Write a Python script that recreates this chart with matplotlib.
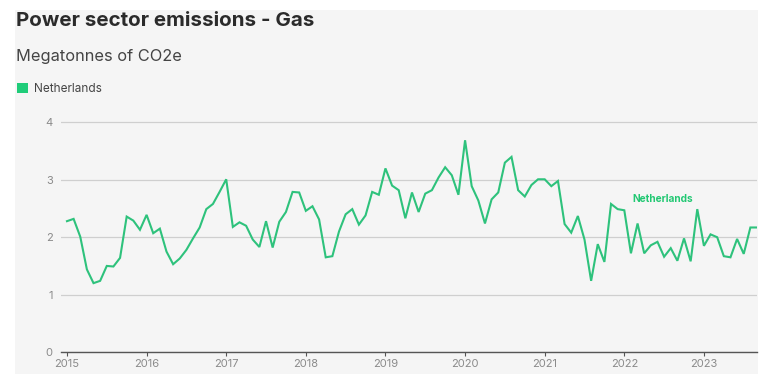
import numpy as np
import matplotlib.pyplot as plt
from matplotlib.patches import Rectangle

# Monthly gas-fired power emissions, Netherlands, Jan 2015 - Sep 2023 (MtCO2e)
netherlands = [
    2.28, 2.32, 2.01, 1.44, 1.20, 1.24, 1.50, 1.49, 1.64, 2.36, 2.29, 2.13,  # 2015
    2.39, 2.07, 2.15, 1.75, 1.53, 1.63, 1.78, 1.98, 2.17, 2.49, 2.58, 2.79,  # 2016
    3.01, 2.18, 2.26, 2.20, 1.96, 1.83, 2.28, 1.82, 2.27, 2.44, 2.79, 2.78,  # 2017
    2.46, 2.54, 2.31, 1.65, 1.67, 2.10, 2.40, 2.49, 2.22, 2.38, 2.79, 2.74,  # 2018
    3.20, 2.90, 2.82, 2.33, 2.78, 2.44, 2.76, 2.82, 3.04, 3.22, 3.08, 2.74,  # 2019
    3.69, 2.89, 2.64, 2.24, 2.66, 2.78, 3.30, 3.40, 2.82, 2.71, 2.91, 3.01,  # 2020
    3.01, 2.89, 2.98, 2.23, 2.08, 2.37, 1.96, 1.24, 1.88, 1.57, 2.58, 2.49,  # 2021
    2.47, 1.72, 2.24, 1.72, 1.86, 1.92, 1.66, 1.81, 1.59, 1.98, 1.58, 2.49,  # 2022
    1.85, 2.05, 2.00, 1.67, 1.65, 1.97, 1.71, 2.17, 2.17,                    # 2023
]
start_year = 2015
year_ticks = list(range(2015, 2024))
y_ticks = [0, 1, 2, 3, 4]

months = np.arange(len(netherlands))
x = start_year + months / 12

plt.rcParams["font.family"] = ["Inter", "DejaVu Sans"]

green = "#2ec27c"
bg = "#f5f5f5"

fig = plt.figure(figsize=(7.65, 3.74), dpi=100)
fig.patch.set_facecolor("white")
# light panel behind everything
fig.patches.append(Rectangle((15 / 765, 0), 743 / 765, 364 / 374,
                             transform=fig.transFigure, facecolor=bg,
                             edgecolor="none", zorder=-10))

ax = fig.add_axes([61 / 765, 22 / 374, 696 / 765, 241 / 374])
ax.set_facecolor(bg)
ax.plot(x, netherlands, color=green, lw=1.5, solid_joinstyle="miter")

ax.set_xlim(start_year - 0.075, x[-1])
ax.set_ylim(0, 4.2)
ax.set_xticks(year_ticks)
ax.set_xticklabels([str(y) for y in year_ticks])
ax.set_yticks(y_ticks)
ax.grid(axis="y", color="#cfcfcf", lw=0.9)
ax.set_axisbelow(True)
for s in ["top", "right", "left"]:
    ax.spines[s].set_visible(False)
ax.spines["bottom"].set_color("#555555")
ax.spines["bottom"].set_linewidth(1.0)
ax.tick_params(axis="x", colors="#555555", length=3, width=0.8, pad=2,
               labelsize=8, labelcolor="#8a8a8a")
ax.tick_params(axis="y", length=0, pad=6, labelsize=8, labelcolor="#8a8a8a")

ax.text(2022.1, 2.66, "Netherlands", color="#22c873", fontsize=7.3,
        fontweight="bold", ha="left", va="center")

fig.text(16 / 765, 1 - 21 / 374, "Power sector emissions - Gas",
         fontsize=14.8, fontweight="bold", color="#2b2b2b", va="center")
fig.text(16 / 765, 1 - 56 / 374, "Megatonnes of CO2e", fontsize=11.8,
         color="#444444", va="center")
fig.patches.append(Rectangle((17 / 765, 1 - 93 / 374), 11 / 765, 10 / 374,
                             transform=fig.transFigure, facecolor="#1fcc79",
                             edgecolor="none"))
fig.text(34 / 765, 1 - 88.5 / 374, "Netherlands", fontsize=8.5,
         color="#444444", va="center")

fig.savefig("out.png", dpi=100)
